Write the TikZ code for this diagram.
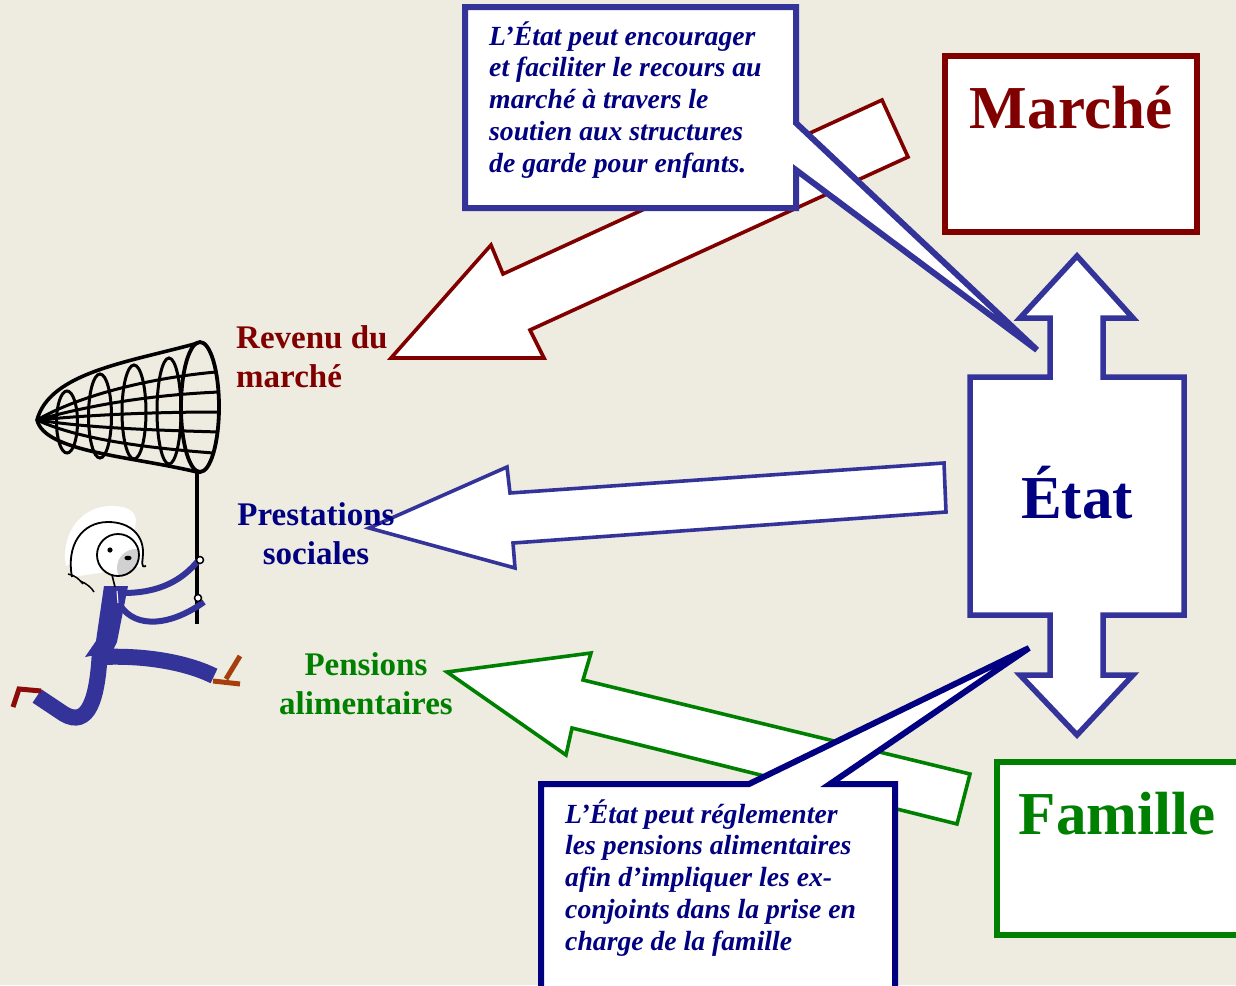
\documentclass[tikz,border=0pt]{standalone}
\usepackage{fontspec}
\setmainfont{Liberation Serif}
\definecolor{bg}{RGB}{238,235,224}
\definecolor{dred}{RGB}{128,0,0}
\definecolor{sblue}{RGB}{51,51,153}
\definecolor{navy}{RGB}{0,0,128}
\definecolor{dgreen}{RGB}{0,128,0}
\definecolor{shoeA}{RGB}{165,64,12}
\definecolor{shoeB}{RGB}{140,10,10}
\newcommand\mylinesC[2]{\vtop{\halign{\hfil##\hfil\cr#1\cr#2\cr}}}
\newcommand\mylinesL[2]{\vtop{\halign{##\hfil\cr#1\cr#2\cr}}}
\tikzset{
  blockarrow/.style={fill=white, line width=3.6pt, line join=miter},
  callout/.style={fill=white, line width=6pt, line join=miter},
  bigbox/.style={fill=white, line width=6pt},
  bigtxt/.style={font=\fontsize{61}{70}\selectfont\bfseries, inner sep=0pt, anchor=base},
  lbl/.style={font=\fontsize{33}{39}\selectfont\bfseries, inner sep=0pt},
  calltxt/.style={font=\fontsize{27.7}{31.8}\selectfont\bfseries\itshape, text=navy, inner sep=0pt, anchor=base west},
  netline/.style={line width=3pt, black},
}
\begin{document}
\begin{tikzpicture}[x=1pt,y=-1pt]
\useasboundingbox (0,0) rectangle (1236,985);
\fill[bg] (0,0) rectangle (1236,985);
\clip (0,0) rectangle (1236,985);

% ---- block arrows
\draw[blockarrow, draw=dred] (391,358) -- (491,245) -- (503,274) -- (882,100) -- (908,157) -- (530,330) -- (544,358) -- cycle;
\draw[blockarrow, draw=sblue] (369,528) -- (507,467) -- (510,493) -- (944,463) -- (946,512) -- (513,543) -- (515,568) -- cycle;
\draw[blockarrow, draw=dgreen] (447,672) -- (591,653) -- (583,680) -- (970,774) -- (957,824) -- (572,728) -- (566,755) -- cycle;

% ---- callouts
\draw[callout, draw=sblue] (465,7) -- (796,7) -- (796,123) -- (1037,350) -- (796,170) -- (796,208) -- (465,208) -- cycle;
\node[calltxt] (c1) at (489,45) {\vtop{\hbox{L’État peut encourager}\hbox{et faciliter le recours au}\hbox{marché à travers le}\hbox{soutien aux structures}\hbox{de garde pour enfants.}}};

\draw[callout, draw=navy] (541,784) -- (749,784) -- (1029,648) -- (830,784) -- (895,784) -- (895,1000) -- (541,1000) -- cycle;
\node[calltxt] (c2) at (565,823) {\vtop{\hbox{L’État peut réglementer}\hbox{les pensions alimentaires}\hbox{afin d’impliquer les ex-}\hbox{conjoints dans la prise en}\hbox{charge de la famille}}};

% ---- boxes
\draw[bigbox, draw=dred] (945,56) rectangle (1197,232);
\node[bigtxt, text=dred] (marche) at (1071,128) {Marché};

\draw[bigbox, draw=dgreen] (997,762) rectangle (1250,935);
\node[bigtxt, text=dgreen] (famille) at (1117,834) {Famille};

\draw[fill=white, draw=sblue, line width=5.5pt, line join=miter]
  (1077,256) -- (1133,318) -- (1103,318) -- (1103,377) -- (1184,377) -- (1184,615) -- (1103,615) -- (1103,675) -- (1133,675) -- (1077,735) -- (1020,675) -- (1050,675) -- (1050,615) -- (970,615) -- (970,377) -- (1050,377) -- (1050,318) -- (1020,318) -- cycle;
\node[bigtxt, text=navy] (etat) at (1077,518) {État};

% ---- labels
\node[lbl, text=dred, anchor=base west] (revenu) at (236,348) {\mylinesL{Revenu du}{marché}};
\node[lbl, text=navy, anchor=base] (prest) at (316,525) {\mylinesC{Prestations}{sociales}};
\node[lbl, text=dgreen, anchor=base] (pens) at (366,675) {\mylinesC{Pensions}{alimentaires}};

% ---- net
\draw[netline] (37,420) .. controls (80,395) and (150,378) .. (216,372);
\draw[netline] (37,420) .. controls (90,405) and (150,395) .. (219,392);
\draw[netline] (37,420) .. controls (90,415) and (150,412) .. (220,412);
\draw[netline] (37,420) .. controls (90,428) and (150,430) .. (219,432);
\draw[netline] (37,420) .. controls (80,440) and (150,448) .. (213,453);
\draw[netline] (67,422) ellipse [x radius=10.5, y radius=31];
\draw[netline] (100,416) ellipse [x radius=11.5, y radius=42];
\draw[netline] (134,412) ellipse [x radius=12, y radius=47];
\draw[netline] (169,411) ellipse [x radius=12, y radius=53];
\draw[line width=3.6pt] (198,343) .. controls (130,362) and (50,372) .. (37,420) .. controls (45,452) and (130,456) .. (197,472);
\draw[line width=3.8pt] (200,407) ellipse [x radius=19, y radius=65];
\draw[line width=3.6pt] (197,472) -- (197,624);

% ---- person
% back leg and shoe
\draw[sblue, line width=16pt] (100,648) .. controls (98,700) and (88,728) .. (64,714) -- (37,696);
\draw[shoeB, line width=5pt] (13,707) -- (19,689) -- (41,691);
% front leg and shoe
\draw[sblue, line width=16pt] (102,657) .. controls (150,655) and (190,664) .. (214,676);
\draw[shoeA, line width=5pt] (213,681) -- (240,684);
\draw[shoeA, line width=5pt] (226,679) -- (240,656);
% torso
\fill[sblue] (104,586) -- (128,586) -- (117,642) -- (112,652) -- (85,657) -- (96,641) -- cycle;
\draw[white, line width=1pt] (117,591) -- (118,603);
% arms
\draw[sblue, line width=6pt] (123,593) .. controls (160,593) and (182,580) .. (198,561);
\draw[sblue, line width=6pt] (120,605) .. controls (136,630) and (172,625) .. (204,602);
\filldraw[fill=white, draw=black, line width=1.5pt] (200,560) circle [radius=3.5];
\filldraw[fill=white, draw=black, line width=1.5pt] (198,598) circle [radius=3.5];
% head
\fill[white] (66,566) .. controls (60,530) and (85,505) .. (112,506) .. controls (132,506) and (140,515) .. (134,530) -- (100,545) -- cycle;
\draw[line width=1.6pt] (112,575) -- (115,587);
\draw[line width=1.8pt, fill=white] (72,577) .. controls (66,545) and (82,522) .. (108,522) .. controls (130,522) and (143,535) .. (143,552) .. controls (143,562) and (140,568) .. (146,566);
\begin{scope}
  \clip (118,555) circle [radius=21];
  \fill[white] (118,555) circle [radius=21];
  \fill[black!18] (136,568) circle [radius=19];
\end{scope}
\draw[line width=1.8pt] (118,555) circle [radius=21];
\draw[line width=1.5pt] (68,574) .. controls (75,575) and (80,580) .. (83,584);
\draw[line width=1.5pt] (80,581) .. controls (86,583) and (92,588) .. (94,592);
\fill (110,550) circle [radius=2.6];
\fill (128,558) ellipse [x radius=3.6, y radius=2.3];
\end{tikzpicture}
\end{document}
